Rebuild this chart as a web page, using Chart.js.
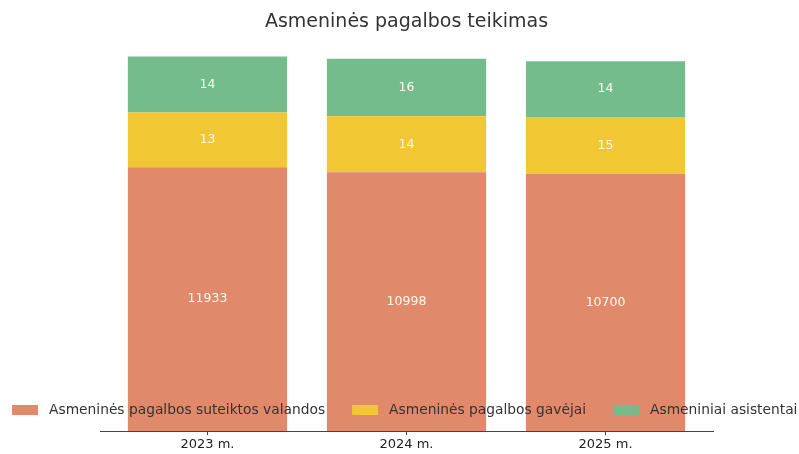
<!DOCTYPE html>
<html>
<head>
<meta charset="utf-8">
<script src="https://cdn.jsdelivr.net/npm/chart.js@4"></script>
<style>
  html, body { margin: 0; padding: 0; background: #fff; }
  #wrap { width: 799px; height: 454px; }
</style>
</head>
<body>
<div id="wrap"><canvas id="chart"></canvas></div>
<script>
const years = ["2023 m.", "2024 m.", "2025 m."];
const hours = [11933, 10998, 10700];
const recipients = [13, 14, 15];
const assistants = [14, 16, 14];
const seriesNames = [
  "Asmeninės pagalbos suteiktos valandos",
  "Asmeninės pagalbos gavėjai",
  "Asmeniniai asistentai",
];
const seriesColors = ["#E08A6B", "#F1C833", "#74BC8B"];

const FONT = "'DejaVu Sans', sans-serif";

// the original does not draw segments to scale, it squeezes them:
// heights follow value^0.23, labels still show the real number
function shown(v) {
  return Math.pow(v, 0.23);
}

function toPoints(values) {
  return values.map((v, i) => ({ x: i, y: shown(v), raw: v }));
}

// numbers inside each segment
const segmentLabels = {
  id: "segmentLabels",
  afterDatasetsDraw(chart) {
    const ctx = chart.ctx;
    ctx.save();
    ctx.font = "12.5px " + FONT;
    ctx.fillStyle = "#FFF9EC";
    ctx.textAlign = "center";
    ctx.textBaseline = "middle";
    chart.data.datasets.forEach((ds, d) => {
      chart.getDatasetMeta(d).data.forEach((bar, i) => {
        const p = bar.getCenterPoint();
        ctx.fillText(String(ds.data[i].raw), p.x, p.y);
      });
    });
    ctx.restore();
  },
};

// legend sits low over the bars, like in the picture
const overLegend = {
  id: "overLegend",
  afterDraw(chart) {
    const ctx = chart.ctx;
    ctx.save();
    ctx.font = "13.8px " + FONT;
    ctx.textBaseline = "middle";
    let x = 12;
    const y = 410;
    chart.data.datasets.forEach((ds) => {
      ctx.fillStyle = ds.backgroundColor;
      ctx.fillRect(x, y - 5, 26, 10);
      x += 37;
      ctx.fillStyle = "#333";
      ctx.fillText(ds.label, x, y);
      x += ctx.measureText(ds.label).width + 27;
    });
    ctx.restore();
  },
};

const ctx = document.getElementById("chart").getContext("2d");
new Chart(ctx, {
  type: "bar",
  data: {
    datasets: [
      { label: seriesNames[0], data: toPoints(hours), backgroundColor: seriesColors[0] },
      { label: seriesNames[1], data: toPoints(recipients), backgroundColor: seriesColors[1] },
      { label: seriesNames[2], data: toPoints(assistants), backgroundColor: seriesColors[2] },
    ],
  },
  options: {
    responsive: true,
    maintainAspectRatio: false,
    animation: false,
    categoryPercentage: 1,
    barPercentage: 0.8,
    layout: { padding: { left: 100, right: 86, top: 0, bottom: 0 } },
    plugins: {
      legend: { display: false },
      tooltip: { enabled: false },
      title: {
        display: true,
        text: "Asmeninės pagalbos teikimas",
        color: "#333",
        font: { family: FONT, size: 19, weight: "normal" },
        padding: { top: 11, bottom: 10 },
      },
    },
    scales: {
      x: {
        type: "linear",
        stacked: true,
        offset: false,
        min: -0.54,
        max: 2.54,
        afterBuildTicks: (scale) => {
          scale.ticks = years.map((_, i) => ({ value: i }));
        },
        ticks: {
          callback: (value) => years[value],
          color: "#222",
          font: { family: FONT, size: 13, lineHeight: 1 },
          maxRotation: 0,
          padding: 3,
        },
        grid: {
          offset: false,
          drawOnChartArea: false,
          drawTicks: true,
          tickLength: 4,
          color: "#444",
        },
        border: { display: true, color: "#444", width: 1 },
      },
      y: {
        display: false,
        stacked: true,
        min: 0,
        max: 12.72,
      },
    },
  },
  plugins: [segmentLabels, overLegend],
});
</script>
</body>
</html>
